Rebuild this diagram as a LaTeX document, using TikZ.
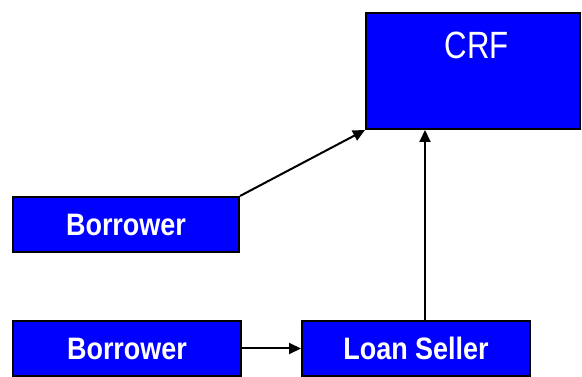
\documentclass[tikz,border=0pt]{standalone}
\usepackage{fontspec}
\setmainfont{Liberation Sans}
\newfontfamily\boxfont[FakeStretch=0.87]{Liberation Sans}
\newfontfamily\titlefont[FakeStretch=0.82]{Liberation Sans}
\usetikzlibrary{arrows.meta}
\definecolor{boxblue}{RGB}{0,0,255}
\tikzset{
  box/.style={draw=black, line width=2pt, fill=boxblue, text=white,
    font=\boxfont\bfseries\fontsize{31}{31}\selectfont, inner sep=0pt},
  crftext/.style={text=white, font=\titlefont\fontsize{38}{38}\selectfont, inner sep=0pt},
  arr/.style={line width=2pt, -{Triangle[length=12pt, width=11pt]}}
}
\begin{document}
\begin{tikzpicture}[x=1pt, y=-1pt]
  \useasboundingbox (0,0) rectangle (582,377);
  % boxes
  \node[box, minimum width=214pt, minimum height=116pt] (crf) at (473,71) {};
  \node[crftext] (crflabel) at (477,45) {CRF};
  \node[box, minimum width=226pt, minimum height=55pt] (b1) at (126,224.5) {Borrower};
  \node[box, minimum width=228pt, minimum height=55pt] (b2) at (127,348.5) {Borrower};
  \node[box, minimum width=228pt, minimum height=55pt] (ls) at (416,348.5) {Loan Seller};
  % connectors
  \draw[arr] (b1.north east) -- (crf.south west);
  \draw[arr] (b2.east) -- (ls.west);
  \draw[arr] ([xshift=9pt]ls.north) -- ([xshift=9pt]ls.north |- crf.south);
\end{tikzpicture}
\end{document}
